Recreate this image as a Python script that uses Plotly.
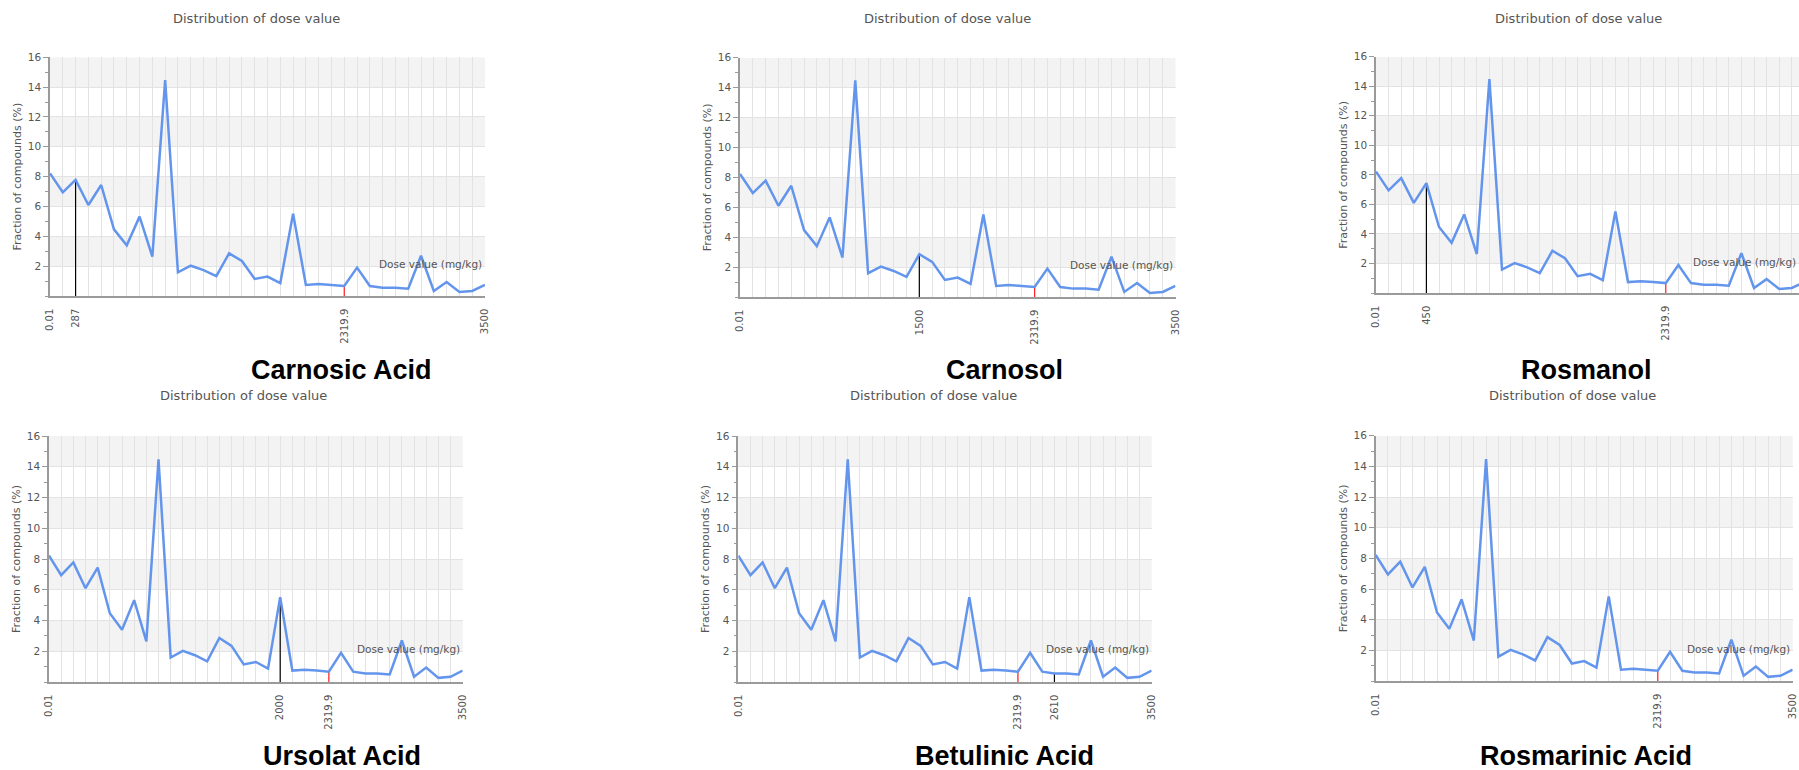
import plotly.graph_objects as go

W, H = 1799, 770

# ---------------- data ----------------
bin_pos = list(range(35))  # dose bins (0.01 ... 3500 mg/kg)
fraction = [8.22, 6.95, 7.78, 6.10, 7.44, 4.47, 3.40, 5.32, 2.64, 14.48,
            1.59, 2.03, 1.74, 1.34, 2.86, 2.35, 1.14, 1.30, 0.87, 5.52,
            0.74, 0.80, 0.74, 0.67, 1.90, 0.67, 0.56, 0.56, 0.49, 2.70,
            0.34, 0.94, 0.27, 0.34, 0.74]

compounds = ["Carnosic Acid", "Carnosol", "Rosmanol",
             "Ursolat Acid", "Betulinic Acid", "Rosmarinic Acid"]
compound_dose_label = ["287", "1500", "450", "2000", "2610", None]
compound_bin = [2, 14, 4, 19, 26, None]

ref_dose_label = "2319.9"
ref_bin = 23
axis_min_label, axis_min_bin = "0.01", 0
axis_max_label, axis_max_bin = "3500", 34

y_tick_vals = [2, 4, 6, 8, 10, 12, 14, 16]
band_starts = [2, 6, 10, 14]

chart_title = "Distribution of dose value"
y_title = "Fraction of compounds (%)"
x_title = "Dose value (mg/kg)"

# ---------------- layout (pixels) ----------------
# (x0, x1, ytop, ybottom, x_range_end)
panels_px = [
    (50, 485, 57.3, 296, 34),
    (740, 1175.5, 57.7, 297, 34),
    (1376, 1799, 56.7, 293, (1799 - 1376) / 12.6),
    (49, 462.7, 436, 682, 34),
    (738.3, 1151.7, 436, 682, 34),
    (1375.7, 1792.7, 435.7, 681, 34),
]
title_px = [(256, 19), (947, 19), (1578, 19), (244, 396), (933, 396), (1572, 396)]
name_px = [(341, 370), (1004, 370), (1586, 370), (342, 756), (1004, 756), (1586, 756)]

FONT = "DejaVu Sans, Verdana, sans-serif"
BOLD = "Liberation Sans, Arial, sans-serif"

fig = go.Figure()
layout = dict(width=W, height=H, margin=dict(l=0, r=0, t=0, b=0, pad=0, autoexpand=False),
              paper_bgcolor="white", plot_bgcolor="white",
              showlegend=False, shapes=[], annotations=[])

for k, (x0, x1, yt, yb, xend) in enumerate(panels_px):
    i = k + 1
    xa = "x" if i == 1 else f"x{i}"
    ya = "y" if i == 1 else f"y{i}"
    xkey = "xaxis" if i == 1 else f"xaxis{i}"
    ykey = "yaxis" if i == 1 else f"yaxis{i}"

    tv = [axis_min_bin, ref_bin, axis_max_bin]
    tt = [axis_min_label, ref_dose_label, axis_max_label]
    if compound_bin[k] is not None:
        tv.append(compound_bin[k])
        tt.append(compound_dose_label[k])

    layout[xkey] = dict(
        domain=[x0 / W, x1 / W], anchor=ya, range=[0, xend], automargin=False,
        tickvals=tv, ticktext=tt, tickangle=-90,
        ticks="outside", ticklen=7, tickcolor="rgba(0,0,0,0)",
        tickfont=dict(family=FONT, size=10, color="#555555"),
        showgrid=True, gridcolor="#e3e3e3", gridwidth=1,
        minor=dict(dtick=1, tick0=0, showgrid=True, gridcolor="#e3e3e3", gridwidth=1, ticks=""),
        showline=True, linecolor="#9a9a9a", linewidth=1.5,
        zeroline=False, fixedrange=True,
    )
    layout[ykey] = dict(
        domain=[1 - yb / H, 1 - yt / H], anchor=xa, range=[0, 16], automargin=False,
        tickvals=y_tick_vals, ticks="outside", ticklen=5, tickcolor="#9a9a9a",
        tickfont=dict(family=FONT, size=10.5, color="#555555"),
        minor=dict(dtick=1, tick0=1, ticks="outside", ticklen=3, tickcolor="#9a9a9a", showgrid=False),
        showgrid=True, gridcolor="#e3e3e3", gridwidth=1,
        showline=True, linecolor="#9a9a9a", linewidth=1.5,
        zeroline=False, fixedrange=True,
        title=dict(text=y_title, font=dict(family=FONT, size=11, color="#555555"), standoff=4),
    )

    for b in band_starts:
        layout["shapes"].append(dict(
            type="rect", xref=f"{xa} domain", yref=ya, x0=0, x1=1, y0=b, y1=b + 2,
            fillcolor="#f3f3f3", line=dict(width=0), layer="below"))

    # compound marker line (black)
    if compound_bin[k] is not None:
        cb = compound_bin[k]
        fig.add_trace(go.Scatter(x=[bin_pos[cb], bin_pos[cb]], y=[0, fraction[cb]],
                                 mode="lines", line=dict(color="black", width=1.2),
                                 xaxis=xa, yaxis=ya, hoverinfo="skip"))
    # reference marker (red)
    fig.add_trace(go.Scatter(x=[bin_pos[ref_bin], bin_pos[ref_bin]], y=[0, fraction[ref_bin]],
                             mode="lines", line=dict(color="#ff2020", width=1.2),
                             xaxis=xa, yaxis=ya, hoverinfo="skip"))
    # distribution line
    fig.add_trace(go.Scatter(x=bin_pos, y=fraction, mode="lines",
                             line=dict(color="#6495ed", width=2.5),
                             xaxis=xa, yaxis=ya))

    layout["annotations"].append(dict(
        text=x_title, xref=f"{xa} domain", yref=ya, x=1, y=2.12,
        xanchor="right", yanchor="middle", xshift=-1, showarrow=False,
        font=dict(family=FONT, size=10.5, color="#555555")))

    tx, ty = title_px[k]
    layout["annotations"].append(dict(
        text=chart_title, xref="paper", yref="paper", x=tx / W, y=1 - ty / H,
        xanchor="center", yanchor="middle", showarrow=False,
        font=dict(family=FONT, size=13, color="#555555")))

    nx, ny = name_px[k]
    layout["annotations"].append(dict(
        text=f"<b>{compounds[k]}</b>", xref="paper", yref="paper", x=nx / W, y=1 - ny / H,
        xanchor="center", yanchor="middle", showarrow=False,
        font=dict(family=BOLD, size=27, color="black")))

fig.update_layout(**layout)
fig.write_html("out.html", config={"displayModeBar": False},
               post_script="document.body.style.margin='0';document.body.style.overflow='hidden';")
